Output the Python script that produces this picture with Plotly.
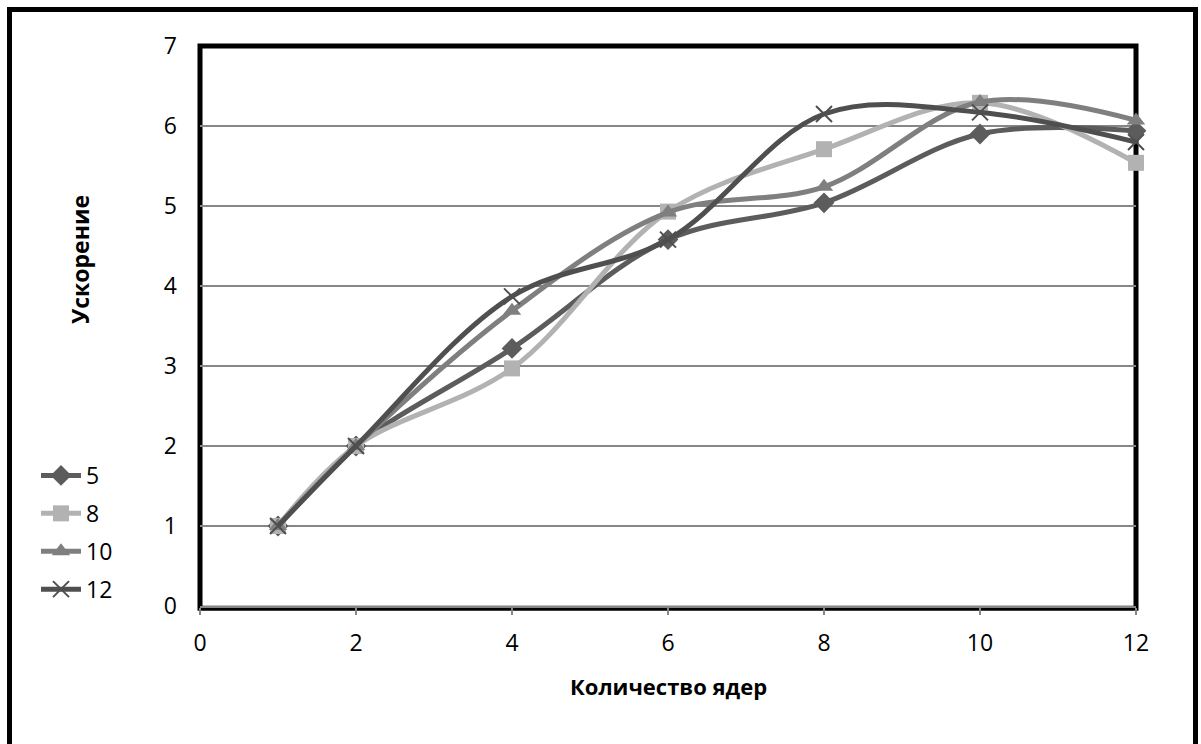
import plotly.graph_objects as go

# Speedup vs. number of cores for four problem sizes
cores = [1, 2, 4, 6, 8, 10, 12]
series_names = ["5", "8", "10", "12"]
speedup_5 = [1, 2, 3.22, 4.58, 5.04, 5.90, 5.94]
speedup_8 = [1, 2, 2.97, 4.93, 5.71, 6.29, 5.54]
speedup_10 = [1, 2, 3.69, 4.92, 5.24, 6.30, 6.07]
speedup_12 = [1, 2, 3.87, 4.58, 6.15, 6.17, 5.80]

x_ticks = [0, 2, 4, 6, 8, 10, 12]
y_ticks = [0, 1, 2, 3, 4, 5, 6, 7]

styles = [
    dict(color="#5c5c5c", symbol="diamond", size=16, mline=0),
    dict(color="#b2b2b2", symbol="square", size=16, mline=0),
    dict(color="#7f7f7f", symbol="triangle-up", size=16, mline=0),
    dict(color="#4f4f4f", symbol="x-thin", size=16, mline=2),
]

FONT = "Open Sans"
TICK_SIZE = 23
fig = go.Figure()
for name, ys, st in zip(series_names, [speedup_5, speedup_8, speedup_10, speedup_12], styles):
    marker = dict(symbol=st["symbol"], size=st["size"], color=st["color"])
    if st["mline"]:
        marker["line"] = dict(color=st["color"], width=st["mline"])
    else:
        marker["line"] = dict(width=0)
    fig.add_trace(go.Scatter(
        x=cores, y=ys, name=name, mode="lines+markers",
        line=dict(color=st["color"], width=5, shape="spline", smoothing=1.0),
        marker=marker, legendgroup=name, cliponaxis=False,
    ))

fig.update_layout(
    width=1201, height=744,
    margin=dict(l=200, r=65, t=46, b=138),
    paper_bgcolor="white", plot_bgcolor="white",
    font=dict(family=FONT, size=TICK_SIZE, color="black"),
    showlegend=True,
    legend=dict(
        xref="container", yref="container",
        x=36 / 1201, y=1 - 454 / 744, xanchor="left", yanchor="top",
        font=dict(family=FONT, size=TICK_SIZE, color="black"),
        tracegroupgap=5, itemwidth=40, bgcolor="rgba(0,0,0,0)",
    ),
    xaxis=dict(
        range=[0, 12], tickvals=x_ticks, showgrid=False, zeroline=False,
        showline=True, linecolor="#868686", linewidth=2,
        ticks="outside", ticklen=7, tickcolor="#868686", tickwidth=1.5,
        ticklabelstandoff=8, tickfont=dict(size=TICK_SIZE),
    ),
    yaxis=dict(
        range=[0, 7], tickvals=y_ticks, showgrid=True, gridcolor="#868686", gridwidth=1.5,
        zeroline=False, showline=False, ticks="", ticklabelstandoff=22,
        tickfont=dict(size=TICK_SIZE),
    ),
    annotations=[
        dict(text="<b>Количество ядер</b>", xref="paper", yref="paper",
             x=0.5, y=-(686 - 606) / 560, xanchor="center", yanchor="middle",
             showarrow=False, font=dict(family=FONT, size=22)),
        dict(text="<b>Ускорение</b>", xref="paper", yref="paper",
             x=(80 - 200) / 936, y=(606 - 260) / 560, xanchor="center", yanchor="middle",
             textangle=-90, showarrow=False, font=dict(family=FONT, size=23)),
    ],
    shapes=[
        # plot-area frame
        dict(type="rect", xref="paper", yref="paper", x0=0, y0=-0.004, x1=1, y1=1,
             line=dict(color="black", width=5), layer="between"),
        # outer chart frame
        dict(type="rect", xref="paper", yref="paper",
             x0=(9.5 - 200) / 936, x1=(1195.5 - 200) / 936,
             y0=-0.4, y1=(606 - 9.5) / 560,
             line=dict(color="black", width=5), layer="above"),
    ],
)

fig.write_html("out.html")
